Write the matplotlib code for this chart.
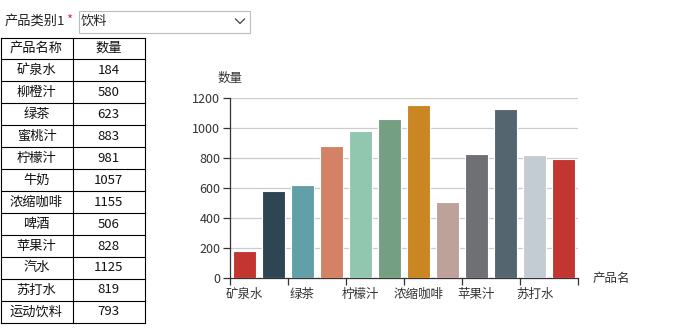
import matplotlib.pyplot as plt
from matplotlib.patches import Rectangle

plt.rcParams['font.family'] = ['Noto Sans CJK SC', 'DejaVu Sans']

# 数据
products = ['矿泉水', '柳橙汁', '绿茶', '蜜桃汁', '柠檬汁', '牛奶',
            '浓缩咖啡', '啤酒', '苹果汁', '汽水', '苏打水', '运动饮料']
quantity = [184, 580, 623, 883, 981, 1057, 1155, 506, 828, 1125, 819, 793]
col_headers = ['产品名称', '数量']
category_label = '产品类别1'
category_value = '饮料'
y_ticks = [0, 200, 400, 600, 800, 1000, 1200]

palette = ['#c23531', '#2f4554', '#61a0a8', '#d48265', '#91c7ae', '#749f83',
           '#ca8622', '#bda29a', '#6e7074', '#546570', '#c4ccd3']
colors = [palette[i % len(palette)] for i in range(len(products))]

W, H = 675, 333
fig = plt.figure(figsize=(W / 100, H / 100), dpi=100)

# 覆盖层: 下拉框和表格, 像素坐标
ov = fig.add_axes([0, 0, 1, 1])
ov.set_xlim(0, W)
ov.set_ylim(H, 0)
ov.axis('off')

ov.text(5, 21, category_label, fontsize=9.5, color='#222', va='center', ha='left')
ov.text(66, 20, '*', fontsize=9.5, color='#e0303a', va='center', ha='left')
ov.add_patch(Rectangle((78.5, 11), 171, 21.5, fill=False, ec='#bcbcbc', lw=0.8))
ov.text(81, 21, category_value, fontsize=9.5, color='#222', va='center', ha='left')
ov.plot([235.5, 240, 244.5], [19, 23.5, 19], color='#444', lw=0.9)

# 表格
left, mid, right = 0.5, 72.5, 144.5
top, row_h = 37.5, 21.95
n_rows = len(products) + 1
bottom = top + n_rows * row_h
for i in range(n_rows + 1):
    y = top + i * row_h
    ov.plot([left, right], [y, y], color='black', lw=0.8)
for x in (left, mid, right):
    ov.plot([x, x], [top, bottom], color='black', lw=0.8)

rows = [col_headers] + [[p, str(q)] for p, q in zip(products, quantity)]
for i, (name, val) in enumerate(rows):
    yc = top + (i + 0.5) * row_h
    ov.text((left + mid) / 2, yc, name, fontsize=9.5, ha='center', va='center', color='#111')
    ov.text((mid + right) / 2, yc, val, fontsize=9.5, ha='center', va='center', color='#111')

# 柱状图
ax = fig.add_axes([230 / W, (H - 278.3) / H, 348 / W, (278.3 - 98) / H])
x = list(range(len(products)))
ax.bar(x, quantity, width=0.78, color=colors, edgecolor='white', linewidth=0.8, zorder=3)
ax.set_xlim(-0.5, len(products) - 0.5)
ax.set_ylim(0, 1200)
ax.set_yticks(y_ticks)
ax.grid(axis='y', color='#cccccc', lw=0.9, zorder=0)
for s in ('top', 'right'):
    ax.spines[s].set_visible(False)
for s in ('left', 'bottom'):
    ax.spines[s].set_color('#333333')
    ax.spines[s].set_linewidth(0.9)

ax.set_xticks([i - 0.5 for i in range(0, len(products) + 1, 2)])
ax.set_xticklabels([])
ax.set_xticks(x[::2], minor=True)
ax.set_xticklabels(products[::2], minor=True)
ax.tick_params(axis='x', which='major', length=5, color='#333333', width=0.9)
ax.tick_params(axis='x', which='minor', length=0, pad=7, labelsize=9, labelcolor='#333333')
ax.tick_params(axis='y', length=5, color='#333333', width=0.9, labelsize=9,
               labelcolor='#333333', pad=2)

ax.text(-0.92, 1330, '数量', fontsize=9, color='#333333', ha='left', va='center',
        clip_on=False)
ax.text(12.0, 0, '产品名', fontsize=9, color='#333333', ha='left', va='center')

fig.savefig('out.png', dpi=100)
